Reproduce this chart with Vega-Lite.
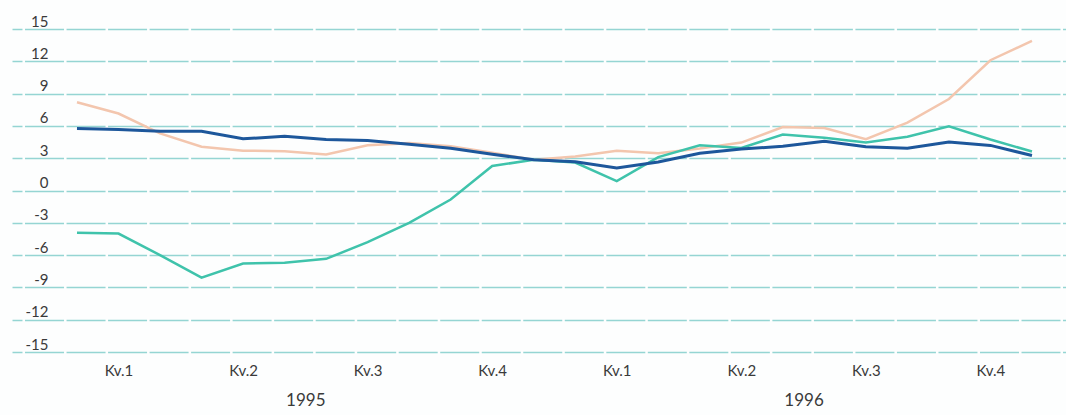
{
  "$schema": "https://vega.github.io/schema/vega-lite/v6.json",
  "width": 1054,
  "height": 323,
  "autosize": "none",
  "padding": {"left": 12, "top": 29, "right": 0, "bottom": 63},
  "background": "#fdfefe",
  "config": {
    "view": {"stroke": null},
    "font": "Lato",
    "axis": {"labelFont": "Lato", "labelColor": "#3a3a3a", "labelFontSize": 15}
  },
  "data": {
    "values": [
      {"series": "A", "t": 0, "value": 5.76}, {"series": "A", "t": 1, "value": 5.66}, {"series": "A", "t": 2, "value": 5.5}, {"series": "A", "t": 3, "value": 5.5},
      {"series": "A", "t": 4, "value": 4.8}, {"series": "A", "t": 5, "value": 5.04}, {"series": "A", "t": 6, "value": 4.74}, {"series": "A", "t": 7, "value": 4.64},
      {"series": "A", "t": 8, "value": 4.3}, {"series": "A", "t": 9, "value": 3.93}, {"series": "A", "t": 10, "value": 3.37}, {"series": "A", "t": 11, "value": 2.85},
      {"series": "A", "t": 12, "value": 2.66}, {"series": "A", "t": 13, "value": 2.1}, {"series": "A", "t": 14, "value": 2.65}, {"series": "A", "t": 15, "value": 3.45},
      {"series": "A", "t": 16, "value": 3.85}, {"series": "A", "t": 17, "value": 4.1}, {"series": "A", "t": 18, "value": 4.57}, {"series": "A", "t": 19, "value": 4.06},
      {"series": "A", "t": 20, "value": 3.93}, {"series": "A", "t": 21, "value": 4.5}, {"series": "A", "t": 22, "value": 4.19}, {"series": "A", "t": 23, "value": 3.25},

      {"series": "B", "t": 0, "value": -3.93}, {"series": "B", "t": 1, "value": -4.0}, {"series": "B", "t": 2, "value": -6.0}, {"series": "B", "t": 3, "value": -8.1},
      {"series": "B", "t": 4, "value": -6.78}, {"series": "B", "t": 5, "value": -6.7}, {"series": "B", "t": 6, "value": -6.35}, {"series": "B", "t": 7, "value": -4.8},
      {"series": "B", "t": 8, "value": -3.0}, {"series": "B", "t": 9, "value": -0.84}, {"series": "B", "t": 10, "value": 2.28}, {"series": "B", "t": 11, "value": 2.85},
      {"series": "B", "t": 12, "value": 2.6}, {"series": "B", "t": 13, "value": 0.87}, {"series": "B", "t": 14, "value": 3.1}, {"series": "B", "t": 15, "value": 4.2},
      {"series": "B", "t": 16, "value": 3.95}, {"series": "B", "t": 17, "value": 5.2}, {"series": "B", "t": 18, "value": 4.9}, {"series": "B", "t": 19, "value": 4.47},
      {"series": "B", "t": 20, "value": 5.0}, {"series": "B", "t": 21, "value": 5.97}, {"series": "B", "t": 22, "value": 4.74}, {"series": "B", "t": 23, "value": 3.62},

      {"series": "C", "t": 0, "value": 8.2}, {"series": "C", "t": 1, "value": 7.15}, {"series": "C", "t": 2, "value": 5.3}, {"series": "C", "t": 3, "value": 4.06},
      {"series": "C", "t": 4, "value": 3.7}, {"series": "C", "t": 5, "value": 3.65}, {"series": "C", "t": 6, "value": 3.35}, {"series": "C", "t": 7, "value": 4.2},
      {"series": "C", "t": 8, "value": 4.4}, {"series": "C", "t": 9, "value": 4.1}, {"series": "C", "t": 10, "value": 3.5}, {"series": "C", "t": 11, "value": 2.85},
      {"series": "C", "t": 12, "value": 3.15}, {"series": "C", "t": 13, "value": 3.7}, {"series": "C", "t": 14, "value": 3.45}, {"series": "C", "t": 15, "value": 3.9},
      {"series": "C", "t": 16, "value": 4.45}, {"series": "C", "t": 17, "value": 5.9}, {"series": "C", "t": 18, "value": 5.8}, {"series": "C", "t": 19, "value": 4.77},
      {"series": "C", "t": 20, "value": 6.3}, {"series": "C", "t": 21, "value": 8.5}, {"series": "C", "t": 22, "value": 12.1}, {"series": "C", "t": 23, "value": 13.9}
    ]
  },
  "encoding": {
    "y": {
      "field": "value",
      "type": "quantitative",
      "scale": {"domain": [-15, 15], "nice": false, "zero": false},
      "axis": {
        "title": null,
        "values": [-15, -12, -9, -6, -3, 0, 3, 6, 9, 12, 15],
        "labelExpr": "'' + datum.value",
        "domain": false,
        "ticks": false,
        "tickSize": 0,
        "labelAlign": "right",
        "labelBaseline": "alphabetic",
        "labelPadding": -36,
        "labelOffset": -3,
        "grid": true,
        "gridColor": "#95d5d3",
        "gridWidth": 1.5,
        "gridDash": [39, 2.52],
        "gridDashOffset": 29
      }
    }
  },
  "layer": [
    {
      "transform": [{"filter": "datum.series === 'C'"}],
      "mark": {"type": "line", "color": "#f3c6ae", "strokeWidth": 2.5},
      "encoding": {
        "x": {
          "field": "t",
          "type": "quantitative",
          "scale": {"domain": [-1.565, 23.82], "nice": false, "zero": false},
          "axis": {
            "title": null,
            "orient": "bottom",
            "values": [1, 4, 7, 10, 13, 16, 19, 22],
            "labelExpr": "'Kv.' + ((datum.value - 1) / 3 % 4 + 1)",
            "domain": false,
            "ticks": false,
            "tickSize": 0,
            "grid": false,
            "labelPadding": 11
          }
        }
      }
    },
    {
      "transform": [{"filter": "datum.series === 'B'"}],
      "mark": {"type": "line", "color": "#3fc3ab", "strokeWidth": 2.5},
      "encoding": {
        "x": {
          "field": "t",
          "type": "quantitative",
          "scale": {"domain": [-1.565, 23.82], "nice": false, "zero": false},
          "axis": {
            "title": null,
            "orient": "bottom",
            "values": [5.5, 17.5],
            "labelExpr": "datum.value < 12 ? '1995' : '1996'",
            "labelFontSize": 17,
            "domain": false,
            "ticks": false,
            "tickSize": 0,
            "grid": false,
            "labelPadding": 40
          }
        }
      }
    },
    {
      "transform": [{"filter": "datum.series === 'A'"}],
      "mark": {"type": "line", "color": "#1d579b", "strokeWidth": 3},
      "encoding": {
        "x": {
          "field": "t",
          "type": "quantitative",
          "scale": {"domain": [-1.565, 23.82], "nice": false, "zero": false},
          "axis": null
        }
      }
    }
  ],
  "resolve": {"axis": {"x": "independent"}}
}
